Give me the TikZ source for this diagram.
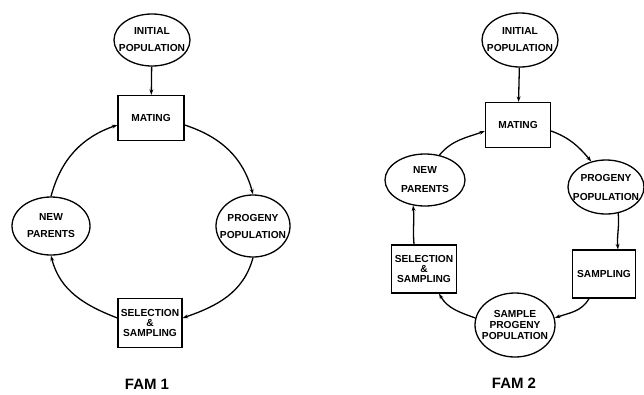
\documentclass[tikz,border=0pt]{standalone}
\usepackage{fontspec}
\setmainfont{Liberation Sans}
\usetikzlibrary{shapes.geometric,arrows.meta}
\tikzset{
  ell/.style={ellipse,draw,line width=1.3pt,inner sep=0pt},
  boxnode/.style={rectangle,draw,line width=1.2pt,inner sep=0pt,align=center,font=\bfseries\fontsize{10.2}{10}\selectfont},
  txt/.style={align=center,inner sep=0pt,font=\bfseries\fontsize{10.2}{17}\selectfont},
  txtt/.style={align=center,inner sep=0pt,font=\bfseries\fontsize{10.2}{11}\selectfont},
  arr/.style={line width=1.3pt,-{Stealth[length=5.5pt,width=3.8pt]}},
  famlbl/.style={font=\bfseries\fontsize{15}{16}\selectfont,inner sep=0pt}
}
\begin{document}
\begin{tikzpicture}[x=1pt,y=-1pt]
\useasboundingbox[fill=white] (0,0) rectangle (644,394);
% ---------- FAM 1 ----------
\node[ell,minimum width=76pt,minimum height=52pt] (ip1) at (152,40) {};
\node[txt] (ip1t) at (ip1) {INITIAL\\POPULATION};
\node[boxnode,minimum width=66pt,minimum height=45pt] (mat1) at (151,118) {MATING};
\node[ell,minimum width=74pt,minimum height=62pt] (prog1) at (253,226) {};
\node[txt] (prog1t) at (prog1) {PROGENY\\POPULATION};
\node[boxnode,minimum width=64pt,minimum height=49pt] (sel1) at (150,323) {SELECTION\\\&\\SAMPLING};
\node[ell,minimum width=78pt,minimum height=58pt] (np1) at (51,226) {};
\node[txt] (np1t) at (np1) {NEW\\PARENTS};
\node[famlbl] (fam1) at (147,384) {FAM 1};

\draw[arr] (ip1) -- (mat1);
\draw[arr] ([yshift=-7pt]mat1.east) to[out=-18,in=105] (prog1.north);
\draw[arr] (prog1.south) to[out=-105,in=19] ([yshift=5pt]sel1.east);
\draw[arr] ([yshift=5pt]sel1.west) to[out=159,in=-76] (np1.south);
\draw[arr] (np1.north) to[out=75,in=-161] ([yshift=-7pt]mat1.west);

% ---------- FAM 2 ----------
\node[ell,minimum width=76pt,minimum height=54pt] (ip2) at (520,40) {};
\node[txt] (ip2t) at (ip2) {INITIAL\\POPULATION};
\node[boxnode,minimum width=65pt,minimum height=45pt] (mat2) at (518,125) {MATING};
\node[ell,minimum width=76pt,minimum height=54pt] (prog2) at (606,187) {};
\node[txt,font=\bfseries\fontsize{10.2}{19}\selectfont] (prog2t) at (prog2) {PROGENY\\POPULATION};
\node[boxnode,minimum width=63pt,minimum height=48pt] (samp2) at (604,274) {SAMPLING};
\node[ell,minimum width=80pt,minimum height=64pt] (spp2) at (515,325) {};
\node[txtt] (spp2t) at (spp2) {SAMPLE\\PROGENY\\POPULATION};
\node[boxnode,minimum width=65pt,minimum height=48pt] (sel2) at (424,269) {SELECTION\\\&\\SAMPLING};
\node[ell,minimum width=80pt,minimum height=52pt] (np2) at (425,180) {};
\node[txt,font=\bfseries\fontsize{10.2}{19}\selectfont] (np2t) at (np2) {NEW\\PARENTS};
\node[famlbl] (fam2) at (514,383) {FAM 2};

\draw[arr] (ip2) -- (mat2);
\draw[arr] ([yshift=-6pt]mat2.east) to[out=-20,in=130] (prog2.120);
\draw[arr] (prog2.-65) to[out=-85,in=95] ([xshift=14pt]samp2.north);
\draw[arr] ([xshift=-15pt]samp2.south) to[out=-120,in=20] (spp2.10);
\draw[arr] (spp2.170) to[out=160,in=-60] ([xshift=15pt]sel2.south);
\draw[arr] ([xshift=-10pt]sel2.north) to[out=95,in=-85] (np2.-115);
\draw[arr] (np2.60) to[out=50,in=-160] ([yshift=-6pt]mat2.west);
\end{tikzpicture}
\end{document}
